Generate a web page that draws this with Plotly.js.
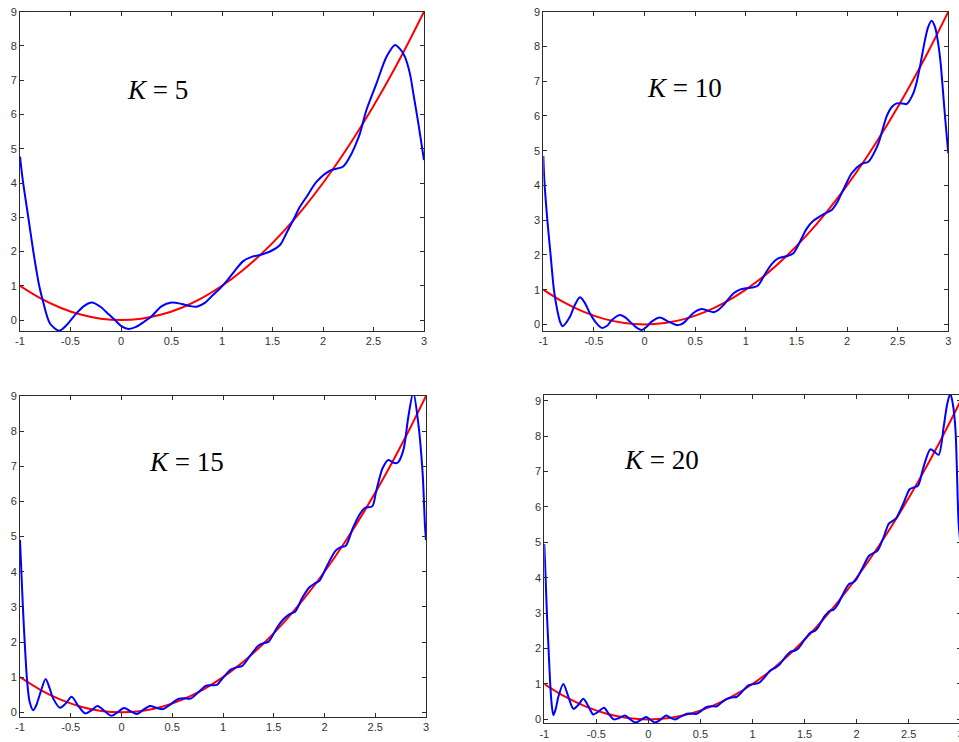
<!DOCTYPE html>
<html>
<head>
<meta charset="utf-8">
<script src="https://cdn.plot.ly/plotly-3.0.1.min.js"></script>
<style>
  html, body { margin: 0; padding: 0; background: #fff; overflow: hidden; }
  #chart { width: 965px; height: 742px; }
</style>
</head>
<body>
<div id="chart"></div>
<script>
// Target function y = x^2 on [-1, 3]
const targetX = [-1, -0.8, -0.6, -0.4, -0.2, 0, 0.2, 0.4, 0.6, 0.8, 1, 1.2, 1.4, 1.6, 1.8, 2, 2.2, 2.4, 2.6, 2.8, 3];
const targetY = [1, 0.64, 0.36, 0.16, 0.04, 0, 0.04, 0.16, 0.36, 0.64, 1, 1.44, 1.96, 2.56, 3.24, 4, 4.84, 5.76, 6.76, 7.84, 9];

// Partial Fourier sums, K = 5
const k5X = [-1, -0.973, -0.918, -0.868, -0.81, -0.775, -0.703, -0.61, -0.53, -0.44, -0.36, -0.29, -0.2, -0.12, -0.06, 0, 0.072, 0.15, 0.23, 0.3, 0.4, 0.5, 0.6, 0.68, 0.75, 0.83, 0.9, 0.98, 1.05, 1.13, 1.21, 1.3, 1.376, 1.475, 1.574, 1.64, 1.706, 1.77, 1.838, 1.937, 2.069, 2.2, 2.267, 2.32, 2.366, 2.43, 2.53, 2.63, 2.713, 2.76, 2.81, 2.86, 2.894, 2.944, 3];
const k5Y = [4.77, 4.09, 3.0, 2.0, 1.0, 0.58, -0.1, -0.31, -0.12, 0.2, 0.42, 0.51, 0.38, 0.16, 0.0, -0.17, -0.26, -0.2, -0.05, 0.1, 0.4, 0.51, 0.47, 0.41, 0.39, 0.5, 0.7, 0.92, 1.15, 1.45, 1.72, 1.85, 1.9, 2.0, 2.19, 2.55, 2.92, 3.3, 3.6, 4.04, 4.36, 4.48, 4.77, 5.1, 5.45, 6.13, 6.91, 7.69, 8.03, 7.92, 7.69, 7.2, 6.62, 5.74, 4.67];

// K = 10
const k10X = [-1, -0.99, -0.96, -0.928, -0.895, -0.862, -0.835, -0.81, -0.737, -0.69, -0.638, -0.59, -0.54, -0.48, -0.424, -0.37, -0.325, -0.243, -0.19, -0.144, -0.085, -0.029, 0.02, 0.07, 0.152, 0.235, 0.317, 0.36, 0.4, 0.48, 0.56, 0.62, 0.68, 0.73, 0.78, 0.877, 0.942, 1.0, 1.06, 1.12, 1.2, 1.26, 1.32, 1.4, 1.47, 1.53, 1.6, 1.667, 1.765, 1.848, 1.9, 1.946, 2.0, 2.045, 2.144, 2.21, 2.26, 2.31, 2.35, 2.39, 2.44, 2.49, 2.55, 2.588, 2.654, 2.69, 2.72, 2.77, 2.8, 2.835, 2.87, 2.9, 2.925, 2.944, 2.97, 3];
const k10Y = [4.85, 4.16, 3.0, 2.0, 0.99, 0.41, 0.08, -0.05, 0.22, 0.55, 0.78, 0.62, 0.32, 0.05, -0.1, -0.04, 0.12, 0.27, 0.2, 0.08, -0.08, -0.16, -0.07, 0.08, 0.2, 0.08, -0.02, 0.0, 0.08, 0.32, 0.44, 0.4, 0.35, 0.42, 0.56, 0.89, 1.0, 1.04, 1.06, 1.12, 1.5, 1.75, 1.9, 1.96, 2.05, 2.35, 2.75, 2.98, 3.17, 3.29, 3.5, 3.77, 4.1, 4.35, 4.62, 4.68, 4.9, 5.21, 5.6, 5.98, 6.25, 6.36, 6.36, 6.34, 6.65, 7.0, 7.42, 8.19, 8.55, 8.74, 8.55, 8.09, 7.5, 6.84, 5.9, 4.92];

// K = 15
const k15X = [-1, -0.985, -0.97, -0.95, -0.93, -0.905, -0.87, -0.84, -0.8, -0.747, -0.71, -0.672, -0.606, -0.55, -0.491, -0.43, -0.36, -0.3, -0.235, -0.165, -0.097, -0.04, 0.025, 0.09, 0.15, 0.21, 0.28, 0.35, 0.41, 0.48, 0.56, 0.62, 0.68, 0.75, 0.83, 0.88, 0.94, 1.0, 1.08, 1.13, 1.19, 1.27, 1.35, 1.4, 1.45, 1.53, 1.6, 1.66, 1.71, 1.78, 1.85, 1.9, 1.95, 2.03, 2.11, 2.16, 2.21, 2.28, 2.35, 2.4, 2.47, 2.51, 2.573, 2.63, 2.68, 2.72, 2.777, 2.826, 2.875, 2.924, 2.967, 2.99, 3];
const k15Y = [4.9, 3.9, 2.9, 1.8, 0.9, 0.3, 0.06, 0.2, 0.55, 0.95, 0.7, 0.39, 0.13, 0.25, 0.44, 0.2, -0.03, 0.05, 0.18, 0.03, -0.1, 0.0, 0.12, 0.03, -0.05, 0.06, 0.18, 0.12, 0.09, 0.22, 0.38, 0.4, 0.39, 0.55, 0.75, 0.77, 0.78, 0.98, 1.22, 1.28, 1.32, 1.62, 1.9, 1.97, 2.01, 2.4, 2.66, 2.8, 2.86, 3.25, 3.55, 3.66, 3.74, 4.2, 4.6, 4.7, 4.74, 5.25, 5.65, 5.82, 5.86, 6.3, 6.95, 7.18, 7.1, 7.1, 7.46, 8.41, 9.1, 8.22, 6.8, 5.3, 4.9];

// K = 20
const k20X = [-1, -0.99, -0.975, -0.96, -0.945, -0.93, -0.913, -0.89, -0.865, -0.817, -0.769, -0.72, -0.67, -0.625, -0.575, -0.53, -0.48, -0.426, -0.38, -0.33, -0.28, -0.224, -0.175, -0.128, -0.075, -0.022, 0.02, 0.064, 0.12, 0.17, 0.21, 0.256, 0.31, 0.37, 0.42, 0.465, 0.51, 0.56, 0.61, 0.657, 0.7, 0.753, 0.8, 0.85, 0.9, 0.96, 1.01, 1.06, 1.12, 1.17, 1.225, 1.26, 1.32, 1.37, 1.405, 1.44, 1.5, 1.56, 1.595, 1.63, 1.69, 1.74, 1.78, 1.82, 1.88, 1.93, 1.965, 2.0, 2.06, 2.12, 2.165, 2.2, 2.26, 2.31, 2.345, 2.38, 2.45, 2.51, 2.55, 2.59, 2.64, 2.709, 2.75, 2.789, 2.837, 2.87, 2.9, 2.925, 2.95, 2.98, 3];
const k20Y = [4.95, 4.2, 3.0, 2.05, 1.1, 0.45, 0.12, 0.3, 0.64, 1.0, 0.64, 0.3, 0.42, 0.58, 0.36, 0.14, 0.22, 0.33, 0.15, 0.0, 0.04, 0.11, 0.0, -0.09, -0.02, 0.07, -0.01, -0.09, 0.0, 0.11, 0.05, 0.0, 0.08, 0.16, 0.16, 0.16, 0.25, 0.35, 0.37, 0.37, 0.47, 0.58, 0.62, 0.64, 0.78, 0.96, 1.0, 1.03, 1.2, 1.38, 1.47, 1.55, 1.78, 1.92, 1.94, 2.0, 2.25, 2.46, 2.49, 2.6, 2.9, 3.06, 3.1, 3.25, 3.6, 3.83, 3.86, 3.97, 4.3, 4.62, 4.7, 4.76, 5.15, 5.53, 5.6, 5.68, 6.1, 6.5, 6.55, 6.6, 7.1, 7.63, 7.55, 7.47, 8.27, 8.9, 9.2, 8.9, 8.17, 5.54, 4.9];

const xTicks = [-1, -0.5, 0, 0.5, 1, 1.5, 2, 2.5, 3];
const xTickText = ['-1', '-0.5', '0', '0.5', '1', '1.5', '2', '2.5', '3'];
const yTicks = [0, 1, 2, 3, 4, 5, 6, 7, 8, 9];
const labels = ['<i>K</i> = 5', '<i>K</i> = 10', '<i>K</i> = 15', '<i>K</i> = 20'];

const series = [[k5X, k5Y], [k10X, k10Y], [k15X, k15Y], [k20X, k20Y]];

// Page geometry (pixels): plot boxes, y ranges and label anchors
const W = 965, H = 742;
const boxes = [
  {l: 20,    r: 424,   t: 11.7, b: 331,   ymin: -0.32, ymax: 9,    lx: 125, ly: 90},
  {l: 543.3, r: 948.3, t: 11.7, b: 331,   ymin: -0.19, ymax: 9,    lx: 645, ly: 88},
  {l: 20,    r: 426,   t: 396,  b: 716.7, ymin: -0.125, ymax: 9,   lx: 147, ly: 462},
  {l: 544.3, r: 960.7, t: 395,  b: 723.3, ymin: -0.11, ymax: 9.16, lx: 622, ly: 460}
];

const axisStyle = {
  showline: true, linecolor: '#2b2b2b', linewidth: 1, mirror: 'ticks',
  ticks: 'inside', ticklen: 4, tickwidth: 1, tickcolor: '#2b2b2b',
  showgrid: false, zeroline: false, fixedrange: true,
  tickfont: {family: 'Liberation Sans, Arial, sans-serif', size: 11, color: '#333'}
};

const traces = [];
const layout = {
  width: W, height: H, margin: {l: 0, r: 0, t: 0, b: 0},
  paper_bgcolor: '#fff', plot_bgcolor: '#fff', showlegend: false,
  annotations: []
};

boxes.forEach((bx, i) => {
  const n = i + 1;
  const xa = 'x' + (n === 1 ? '' : n);
  const ya = 'y' + (n === 1 ? '' : n);
  traces.push({x: targetX, y: targetY, xaxis: xa, yaxis: ya, mode: 'lines',
    line: {color: 'rgb(255,0,0)', width: 2, shape: 'spline', smoothing: 1}, hoverinfo: 'skip'});
  traces.push({x: series[i][0], y: series[i][1], xaxis: xa, yaxis: ya, mode: 'lines',
    line: {color: 'rgb(0,0,255)', width: 2, shape: 'spline', smoothing: 0.8}, hoverinfo: 'skip'});
  layout['xaxis' + (n === 1 ? '' : n)] = Object.assign({}, axisStyle, {
    domain: [bx.l / W, bx.r / W], range: [-1, 3], anchor: ya,
    tickvals: xTicks, ticktext: xTickText
  });
  layout['yaxis' + (n === 1 ? '' : n)] = Object.assign({}, axisStyle, {
    domain: [1 - bx.b / H, 1 - bx.t / H], range: [bx.ymin, bx.ymax], anchor: xa,
    tickvals: yTicks
  });
  layout.annotations.push({
    xref: 'paper', yref: 'paper', x: bx.lx / W, y: 1 - bx.ly / H,
    xanchor: 'left', yanchor: 'middle', showarrow: false, text: labels[i],
    font: {family: 'Liberation Serif, Times New Roman, serif', size: 27, color: '#000'}
  });
});

Plotly.newPlot('chart', traces, layout, {displayModeBar: false, staticPlot: true});
</script>
</body>
</html>
